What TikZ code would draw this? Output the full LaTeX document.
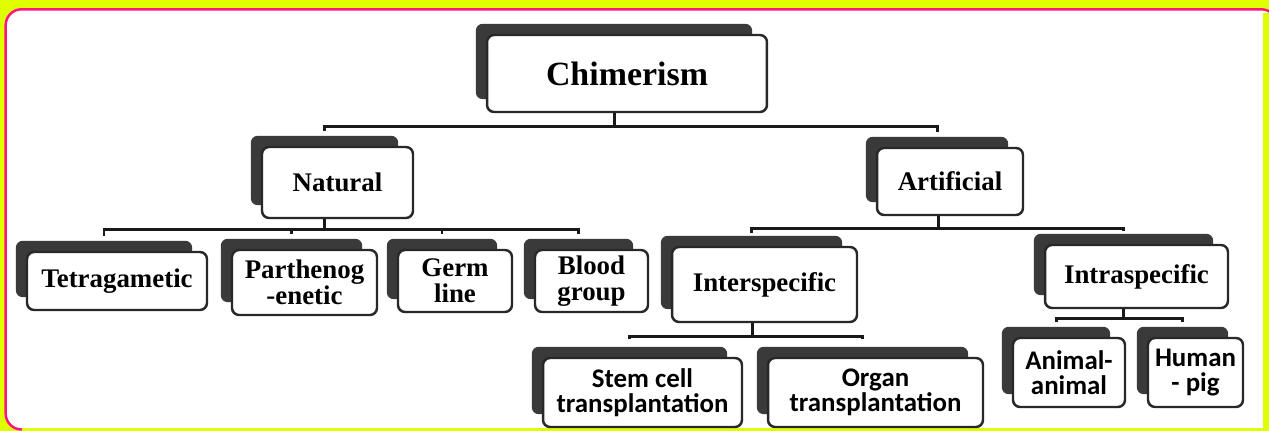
\documentclass[tikz,border=0pt]{standalone}
\usepackage{fontspec}
\usepackage{tikz}
\usetikzlibrary{calc, backgrounds}
\newfontfamily\serifbox{Liberation Serif}
\newfontfamily\sansbox{Carlito}
\definecolor{bgyellow}{RGB}{221,255,0}
\definecolor{framepink}{RGB}{255,20,125}
\definecolor{shadegray}{RGB}{58,58,58}
\definecolor{edgegray}{RGB}{40,40,40}
\tikzset{
    catbox/.style={draw=edgegray, line width=1.4pt, fill=white, rounded corners=4pt,
        inner sep=0pt, align=center, font=\serifbox\bfseries\fontsize{15.3}{14.8}\selectfont},
    sanscat/.style={catbox, font=\sansbox\bfseries\fontsize{15.3}{14.3}\selectfont},
    link/.style={draw=black!90, line width=1.7pt},
}

\begin{document}
\begin{tikzpicture}[x=0.02cm, y=-0.02cm]
    \useasboundingbox (0,0) rectangle (1269,431);
    \begin{scope}[on background layer]
        \fill[bgyellow] (0,0) rectangle (1269,431);
        \draw[framepink, line width=1.4pt, fill=white, rounded corners=9pt] (5.7,9.3) rectangle (1277,429.5);
        \fill[bgyellow] (1263,13) rectangle (1269,431);
        \fill[bgyellow] (22,428.4) rectangle (1269,431);
    \end{scope}

    % top and second level
    \node[catbox, minimum width=5.6cm, minimum height=1.54cm,
        font=\serifbox\bfseries\fontsize{19.3}{22}\selectfont] (chim) at (627,73.5) {Chimerism};
    \node[catbox, minimum width=3.02cm, minimum height=1.42cm] (nat) at (337.5,182.5) {Natural};
    \node[catbox, minimum width=2.92cm, minimum height=1.34cm] (art) at (950,181.5) {Artificial};

    % natural chimeras
    \node[catbox, minimum width=3.6cm, minimum height=1.16cm] (tetra) at (117,281) {Tetragametic};
    \node[catbox, minimum width=2.9cm, minimum height=1.3cm] (parth) at (304.5,282.5) {Parthenog\\-enetic};
    \node[catbox, minimum width=2.28cm, minimum height=1.24cm] (germ) at (455,281) {Germ\\line};
    \node[catbox, minimum width=2.26cm, minimum height=1.24cm] (blood) at (591.5,281) {Blood\\group};

    % artificial chimeras
    \node[catbox, minimum width=3.7cm, minimum height=1.5cm] (inter) at (764.5,284.5) {Interspecific};
    \node[catbox, minimum width=3.66cm, minimum height=1.26cm] (intra) at (1136.5,276.5) {Intraspecific};
    \node[sanscat, minimum width=3.98cm, minimum height=1.38cm] (stem) at (642.5,392.5) {Stem cell\\transplantation};
    \node[sanscat, minimum width=4.3cm, minimum height=1.38cm] (organ) at (875.5,392.5) {Organ\\transplantation};
    \node[sanscat, minimum width=2.24cm, minimum height=1.38cm] (animal) at (1069,372.5) {Animal-\\animal};
    \node[sanscat, minimum width=1.9cm, minimum height=1.38cm] (human) at (1195.5,372.5) {Human\\- pig};

    \begin{scope}[on background layer]
        \foreach \n in {chim,nat,art,tetra,parth,germ,blood,inter,intra,stem,organ,animal,human}
            \fill[shadegray, rounded corners=4pt] ([shift={(-10,-10)}]\n.north west) rectangle ([shift={(-16,-14)}]\n.south east);
    \end{scope}

    % connectors
    \draw[link] ([xshift=-0.26cm]chim.south) -- ++(0,13) coordinate (chimbar);
    \foreach \c in {nat,art}
        \draw[link] ([shift={(-13,-15)}]\c.north) |- (chimbar);
    \draw[link] ([xshift=-0.26cm]nat.south) -- ++(0,10) coordinate (natbar);
    \foreach \c in {tetra,parth,germ,blood}
        \draw[link] ([shift={(-13,-15)}]\c.north) |- (natbar);
    \draw[link] ([xshift=-0.24cm]art.south) -- ++(0,12) coordinate (artbar);
    \foreach \c in {inter,intra}
        \draw[link] ([shift={(-13,-13)}]\c.north) |- (artbar);
    \draw[link] ([xshift=-0.25cm]inter.south) -- ++(0,13) coordinate (interbar);
    \foreach \c in {stem,organ}
        \draw[link] ([shift={(-13,-18)}]\c.north) |- (interbar);
    \draw[link] ([xshift=-0.27cm]intra.south) -- ++(0,9) coordinate (intrabar);
    \foreach \c in {animal,human}
        \draw[link] ([shift={(-13,-15)}]\c.north) |- (intrabar);
\end{tikzpicture}
\end{document}
